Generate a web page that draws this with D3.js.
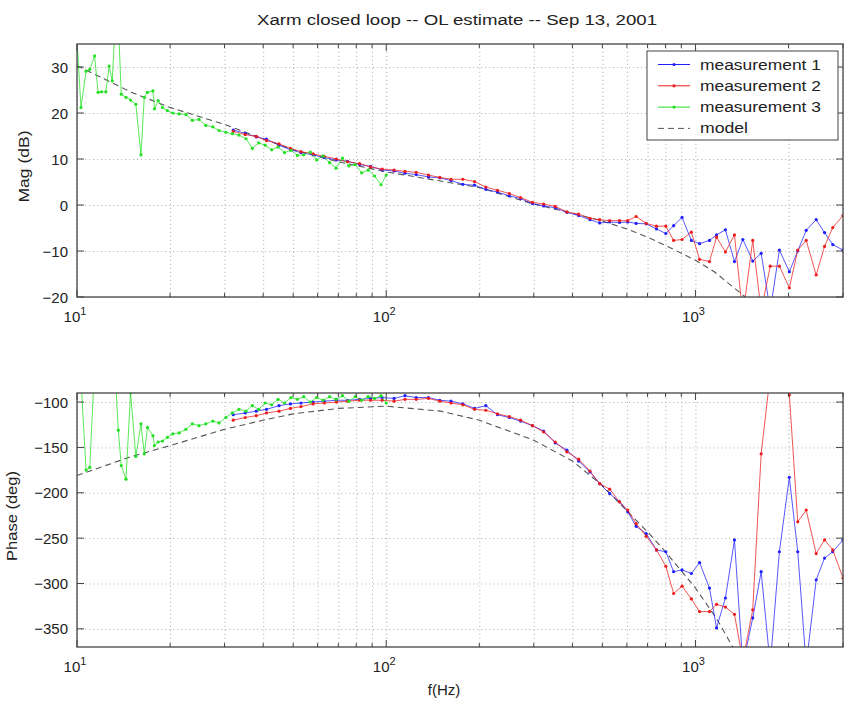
<html>
  <head>
    <script src="https://d3js.org/d3.v7.min.js"></script>
    <style>
      body { margin: 0; background: #fff; }
      text { font-family: "Liberation Sans", Arial, sans-serif; fill: #222; }
      .grid line { stroke: #b8b8b8; stroke-dasharray: 1.2 2.8; }
      .grid .domain { stroke: none; }
    </style>
  </head>
  <body>
    <svg id="svg1" width="844" height="703"></svg>
    <script>
      // measurements 1 and 2 share one frequency grid (Hz)
      const freq12 = [32, 35, 38, 41, 45, 49, 53, 58, 63, 69, 75, 82, 89, 97, 106, 115, 125, 137, 149, 162,
        177, 193, 210, 229, 250, 272, 297, 323, 352, 384, 419, 456, 490, 528, 568, 604, 643, 693, 748, 802,
        850, 905, 970, 1031, 1110, 1170, 1250, 1337, 1423, 1532, 1631, 1745, 1868, 2012, 2142, 2281, 2457, 2615, 2780, 3000];
      const mag1 = [16.3, 15.6, 14.8, 14.3, 13.0, 12.0, 11.4, 10.9, 10.3, 9.8, 9.5, 8.8, 8.4, 7.6, 7.4, 6.9, 6.6, 6.1, 5.9, 5.3,
        4.5, 4.3, 3.4, 2.8, 2.0, 1.4, 0.3, -0.2, -0.6, -1.6, -2.3, -3.2, -3.9, -3.7, -3.8, -3.7, -4.0, -4.1, -5.2, -6.2,
        -4.5, -2.7, -7.7, -8.4, -7.7, -6.5, -5.4, -12.3, -7.5, -12.2, -10.5, -23, -9.8, -14.5, -10, -5.5, -3.2, -6, -8.6, -9.8];
      const mag2 = [16.0, 15.3, 14.9, 14.0, 13.3, 12.3, 11.6, 11.1, 10.6, 10.0, 9.4, 9.0, 8.3, 7.8, 7.6, 7.3, 7.1, 6.5, 6.0, 5.6,
        5.6, 5.1, 3.9, 3.2, 2.5, 1.6, 0.6, 0.2, -0.3, -1.5, -2.0, -2.9, -3.2, -3.4, -3.4, -3.4, -2.5, -4.0, -4.6, -4.6,
        -7.7, -7.5, -5.9, -11.8, -12.3, -7.0, -10.2, -6.5, -24, -7.7, -23, -13.3, -13.3, -18, -9.8, -7.7, -15.2, -9, -4.9, -2.3];
      const phase1 = [-114, -112, -110, -108, -104, -102, -101, -100, -99, -98, -98, -97, -96, -95, -96, -93, -95, -95, -98, -99,
        -102, -107, -104, -114, -117, -121, -126, -132, -145, -153, -165, -177, -190, -201, -210, -221, -237, -245, -263, -265,
        -287, -285, -289, -277, -305, -349, -316, -252, -390, -338, -287, -390, -265, -183, -265, -390, -296, -272, -265, -252];
      const phase2 = [-120, -117, -115, -112, -110, -107, -105, -102, -101, -100, -99, -98, -98, -98, -99, -97, -97, -96, -99, -101,
        -103, -108, -109, -113, -116, -120, -126, -133, -144, -155, -163, -176, -190, -196, -210, -219, -234, -248, -263, -281,
        -311, -303, -317, -331, -331, -323, -326, -334, -385, -329, -157, -70, -50, -92, -232, -219, -267, -252, -263, -294];

      // measurement 3 (low frequency sweep)
      const freq3 = [10.0, 10.3, 10.7, 11.0, 11.4, 11.7, 12.0, 12.4, 12.7, 13.0, 13.3, 13.6, 13.9, 14.4, 14.9, 15.5, 16.1, 16.5, 16.9, 17.6,
        17.8, 18.3, 18.9, 19.6, 20.4, 21.4, 22.5, 23.6, 24.8, 26.1, 27.5, 28.8, 30.3, 31.8, 33.4, 35.2, 36.9, 38.7, 40.6, 42.6,
        44.7, 46.9, 49.2, 51.6, 54.1, 56.8, 59.6, 62.5, 65.6, 68.8, 72.2, 75.7, 79.4, 83.3, 87.4, 91.7, 96.2, 100];
      const mag3 = [36, 21.2, 29.1, 29.5, 32.4, 24.5, 24.6, 24.6, 30.2, 27.0, 40, 40, 24.1, 23.4, 22.8, 21.9, 10.9, 23.4, 24.5, 24.8,
        20.9, 22.7, 21.2, 20.5, 20.0, 19.8, 19.7, 18.4, 18.6, 17.3, 17.0, 16.2, 15.8, 15.5, 15.2, 14.4, 12.3, 13.5, 13.0, 12.0,
        12.6, 11.4, 11.9, 10.8, 10.9, 11.5, 9.8, 10.7, 9.2, 8.0, 10.2, 8.5, 8.8, 7.0, 7.6, 6.3, 4.4, 6.5];
      const phase3 = [-40, -75, -175, -172, -60, -40, -30, -50, -20, -45, -70, -131, -170, -185, -90, -160, -124, -157, -128, -137,
        -148, -144, -143, -139, -135, -134, -130, -124, -126, -124, -121, -123, -117, -112, -108, -110, -104, -108, -101, -103,
        -97, -101, -95, -97, -94, -100, -95, -98, -94, -97, -93, -99, -94, -98, -94, -96, -93, -101];

      // model
      const modelFreq = [10, 15, 20, 30, 40, 50, 70, 100, 150, 200, 300, 400, 500, 600, 700, 800, 1000, 1150, 1200, 1320, 1450];
      const modelMag = [30.3, 24.5, 21.2, 17.5, 14.4, 12.0, 9.4, 7.2, 5.2, 3.8, 0.2, -1.8, -3.5, -5.2, -7, -8.8, -12, -14.5, -15.5, -17.8, -20];
      const modelPhase = [-181, -160, -148, -130, -120, -113, -107, -104.5, -110, -120, -142, -165, -192, -220, -243, -265, -305, -335, -345, -370, -395];

      const series = ["measurement 1", "measurement 2", "measurement 3", "model"];
      const colors = ["#1f1fff", "#ee1c1c", "#22e022", "#555"];
      const magTicks = [-20, -10, 0, 10, 20, 30];
      const phaseTicks = [-350, -300, -250, -200, -150, -100];
      const decades = [10, 100, 1000];
      const minorTicks = [];
      decades.forEach((d) => [2, 3, 4, 5, 6, 7, 8, 9].forEach((k) => { if (d * k <= 3000) minorTicks.push(d * k); }));

      const svg = d3.select("svg#svg1");
      const left = 77, right = 843;

      const x = d3.scaleLog().domain([10, 3000]).range([left, right]);

      const panels = [
        { id: "mag", top: 44, bottom: 297, domain: [-20, 35], ticks: magTicks, label: "Mag (dB)", labelX: 29, labelW: 72,
          ys: [mag1, mag2, mag3, modelMag] },
        { id: "phase", top: 393, bottom: 647, domain: [-370, -90], ticks: phaseTicks, label: "Phase (deg)", labelX: 17, labelW: 90,
          ys: [phase1, phase2, phase3, modelPhase] }
      ];

      const fmt = (v) => (v < 0 ? "\u2212" + Math.abs(v) : "" + v);

      panels.forEach((p) => {
        const y = d3.scaleLinear().domain(p.domain).range([p.bottom, p.top]);
        const g = svg.append("g").attr("id", p.id);

        g.append("clipPath").attr("id", "clip-" + p.id)
          .append("rect").attr("x", left).attr("y", p.top).attr("width", right - left).attr("height", p.bottom - p.top);

        // grid lines
        g.append("g").attr("class", "grid")
          .attr("transform", `translate(0,${p.bottom})`)
          .call(d3.axisBottom(x).tickValues(decades.concat(minorTicks)).tickSize(-(p.bottom - p.top)).tickFormat(""));
        g.append("g").attr("class", "grid")
          .attr("transform", `translate(${left},0)`)
          .call(d3.axisLeft(y).tickValues(p.ticks).tickSize(-(right - left)).tickFormat(""));

        // data
        const plot = g.append("g").attr("clip-path", `url(#clip-${p.id})`);
        const lineGen = d3.line().x((d) => x(d[0])).y((d) => y(d[1]));

        plot.append("path")
          .attr("d", lineGen(modelFreq.map((f, i) => [f, p.ys[3][i]])))
          .attr("fill", "none").attr("stroke", colors[3]).attr("stroke-width", 1.1)
          .attr("stroke-dasharray", "6 4");

        [[freq12, p.ys[0], 0], [freq12, p.ys[1], 1], [freq3, p.ys[2], 2]].forEach(([fs, vs, k]) => {
          const pts = fs.map((f, i) => [f, vs[i]]);
          plot.append("path")
            .attr("d", lineGen(pts))
            .attr("fill", "none").attr("stroke", colors[k]).attr("stroke-width", 1).attr("stroke-opacity", 0.75);
          plot.selectAll(null).data(pts).join("circle")
            .attr("cx", (d) => x(d[0])).attr("cy", (d) => y(d[1])).attr("r", 1.6)
            .attr("fill", colors[k]);
        });

        // box and ticks
        const axes = g.append("g").attr("stroke", "#444").attr("fill", "none");
        axes.append("rect").attr("x", left).attr("y", p.top).attr("width", right - left).attr("height", p.bottom - p.top)
          .attr("stroke-width", 1.3);
        decades.concat(minorTicks).forEach((f) => {
          const len = decades.includes(f) ? 7 : 4;
          axes.append("line").attr("x1", x(f)).attr("x2", x(f)).attr("y1", p.bottom).attr("y2", p.bottom - len);
          axes.append("line").attr("x1", x(f)).attr("x2", x(f)).attr("y1", p.top).attr("y2", p.top + len);
        });
        p.ticks.forEach((v) => {
          axes.append("line").attr("x1", left).attr("x2", left + 7).attr("y1", y(v)).attr("y2", y(v));
          axes.append("line").attr("x1", right).attr("x2", right - 7).attr("y1", y(v)).attr("y2", y(v));
        });

        // tick labels
        g.selectAll("text.ytick").data(p.ticks).join("text").attr("class", "ytick")
          .attr("x", left - 9).attr("y", (d) => y(d) + 5.5)
          .attr("text-anchor", "end").attr("font-size", 15).text(fmt);

        decades.forEach((d, i) => {
          const t = g.append("text").attr("x", x(d) - 2).attr("y", p.bottom + 25)
            .attr("text-anchor", "middle").attr("font-size", 15);
          t.append("tspan").text("10");
          t.append("tspan").attr("dy", -7).attr("font-size", 11).text(String(i + 1));
        });

        g.append("text")
          .attr("transform", `translate(${p.labelX},${(p.top + p.bottom) / 2 - 4}) rotate(-90)`)
          .attr("text-anchor", "middle").attr("font-size", 15)
          .attr("textLength", p.labelW).attr("lengthAdjust", "spacingAndGlyphs").text(p.label);
      });

      svg.append("text").attr("x", 457).attr("y", 25).attr("text-anchor", "middle")
        .attr("font-size", 15.5).attr("textLength", 400).attr("lengthAdjust", "spacingAndGlyphs")
        .text("Xarm closed loop -- OL estimate -- Sep 13, 2001");

      svg.append("text").attr("x", 444).attr("y", 695).attr("text-anchor", "middle")
        .attr("font-size", 15).text("f(Hz)");

      // legend
      const legend = svg.append("g").attr("transform", "translate(647,51)");
      legend.append("rect").attr("width", 191).attr("height", 89).attr("fill", "#fff").attr("stroke", "#444");
      series.forEach((s, i) => {
        const ly = 13.5 + i * 21.3;
        legend.append("line").attr("x1", 11).attr("x2", 43).attr("y1", ly).attr("y2", ly)
          .attr("stroke", colors[i]).attr("stroke-width", 1)
          .attr("stroke-dasharray", i === 3 ? "6 4" : null);
        if (i < 3) legend.append("circle").attr("cx", 27).attr("cy", ly).attr("r", 1.6).attr("fill", colors[i]);
        legend.append("text").attr("x", 53).attr("y", ly + 5).attr("font-size", 15.5)
          .attr("textLength", i < 3 ? 121 : 48).attr("lengthAdjust", "spacingAndGlyphs").text(s);
      });
    </script>
  </body>
</html>
